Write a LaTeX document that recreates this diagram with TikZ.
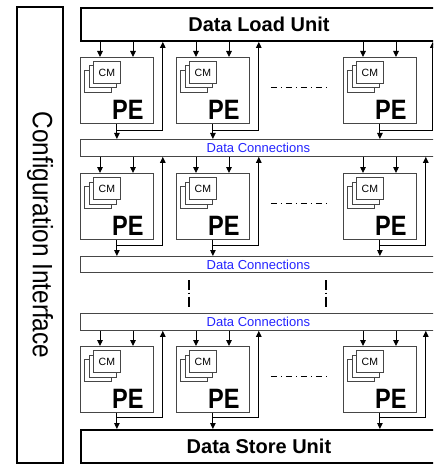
\documentclass[tikz,border=0pt]{standalone}
\usepackage{graphicx}
\usepackage{fontspec}
\setmainfont{Liberation Sans}
\usetikzlibrary{arrows.meta,calc}
\definecolor{dcblue}{RGB}{35,35,255}
\definecolor{boxgray}{RGB}{70,70,70}
\begin{document}
\begin{tikzpicture}[x=1pt,y=-1pt,
  unit/.style={draw=black, line width=1.9pt, minimum width=356pt, minimum height=33pt,
    anchor=north west, inner sep=0pt, font=\fontsize{20}{24}\selectfont\bfseries},
  dcbar/.style={draw=boxgray, line width=0.8pt, minimum width=356pt, anchor=north west,
    inner sep=0pt, text=dcblue, font=\fontsize{13}{15}\selectfont},
  pebox/.style={draw=boxgray, line width=0.8pt, minimum width=73pt, minimum height=66pt,
    anchor=north west, inner sep=0pt, fill=white},
  cmbox/.style={draw=boxgray, line width=0.8pt, minimum width=27pt, minimum height=22pt,
    anchor=north west, inner sep=0pt, fill=white, font=\fontsize{10.5}{12}\selectfont},
  petext/.style={anchor=base east, inner sep=0pt, font=\fontsize{28}{32}\selectfont\bfseries},
  arr/.style={draw=black, line width=0.9pt, -{Triangle[length=6pt,width=5.5pt]}},
  hdots/.style={draw=black, line width=1.3pt, dash pattern=on 6.5pt off 3.5pt on 1.5pt off 3.5pt},
  vdots/.style={draw=black, line width=1.3pt, dash pattern=on 10pt off 2.5pt on 1.5pt off 2.5pt},
]
\useasboundingbox (0,0) rectangle (433,465);
\clip (0,0) rectangle (433,465);

% configuration interface
\node[draw=black, line width=1.9pt, rotate=-90, minimum width=456pt, minimum height=46pt,
  inner sep=0pt, font=\fontsize{28}{32}\selectfont] (cfg) at (40,235)
  {\scalebox{0.87}[1]{Configuration Interface}};

% buses
\node[unit] (dlu) at (80,7) {Data Load Unit};
\node[dcbar, minimum height=17pt] (dc1) at (80,139) {Data Connections};
\node[dcbar, minimum height=16pt] (dc2) at (80,256) {Data Connections};
\node[dcbar, minimum height=17pt] (dc3) at (80,313) {Data Connections};
\node[unit] (dsu) at (80,429) {Data Store Unit};

% PE rows
\foreach \r/\top/\ab/\be/\h/\fbc in {1/57/dlu/dc1/7/16, 2/173/dc1/dc2/6/9, 4/346/dc3/dsu/5/9} {
  \foreach \c/\x/\f in {1/80/9, 2/176/9, 3/343/\fbc} {
    \node[pebox] (pe\r\c) at (\x,\top) {};
    \node[cmbox] (cm\r\c c) at ($(pe\r\c.north west)+(4,13)$) {};
    \node[cmbox] (cm\r\c b) at ($(pe\r\c.north west)+(8.5,8.5)$) {};
    \node[cmbox] (cm\r\c a) at ($(pe\r\c.north west)+(13,4)$) {CM};
    \node[petext] (pl\r\c) at ($(pe\r\c.south east)+(-10,-4)$) {\scalebox{0.84}[1]{PE}};
    \coordinate (ia\r\c) at ($(pe\r\c.north west)+(20,0)$);
    \coordinate (ib\r\c) at ($(pe\r\c.north west)+(53,0)$);
    \coordinate (h\r\c) at ($(pe\r\c.south)+(0,\h)$);
    \coordinate (f\r\c) at ($(pe\r\c.south east)+(\f,\h)$);
    \draw[arr] (ia\r\c |- \ab.south) -- (ia\r\c);
    \draw[arr] (ib\r\c |- \ab.south) -- (ib\r\c);
    \draw[arr] (pe\r\c.south) -- (pe\r\c.south |- \be.north);
    \draw[arr] (h\r\c) -| (f\r\c |- \ab.south);
  }
  \draw[hdots] ($(pe\r2.east)+(21,-3)$) -- ($(pe\r3.west)+(-16,-3)$);
}

% vertical continuation marks
\coordinate (va) at (189,280);
\coordinate (vb) at (326,280);
\draw[vdots] (va) -- ++(0,27);
\draw[vdots] (vb) -- ++(0,27);
\end{tikzpicture}
\end{document}
